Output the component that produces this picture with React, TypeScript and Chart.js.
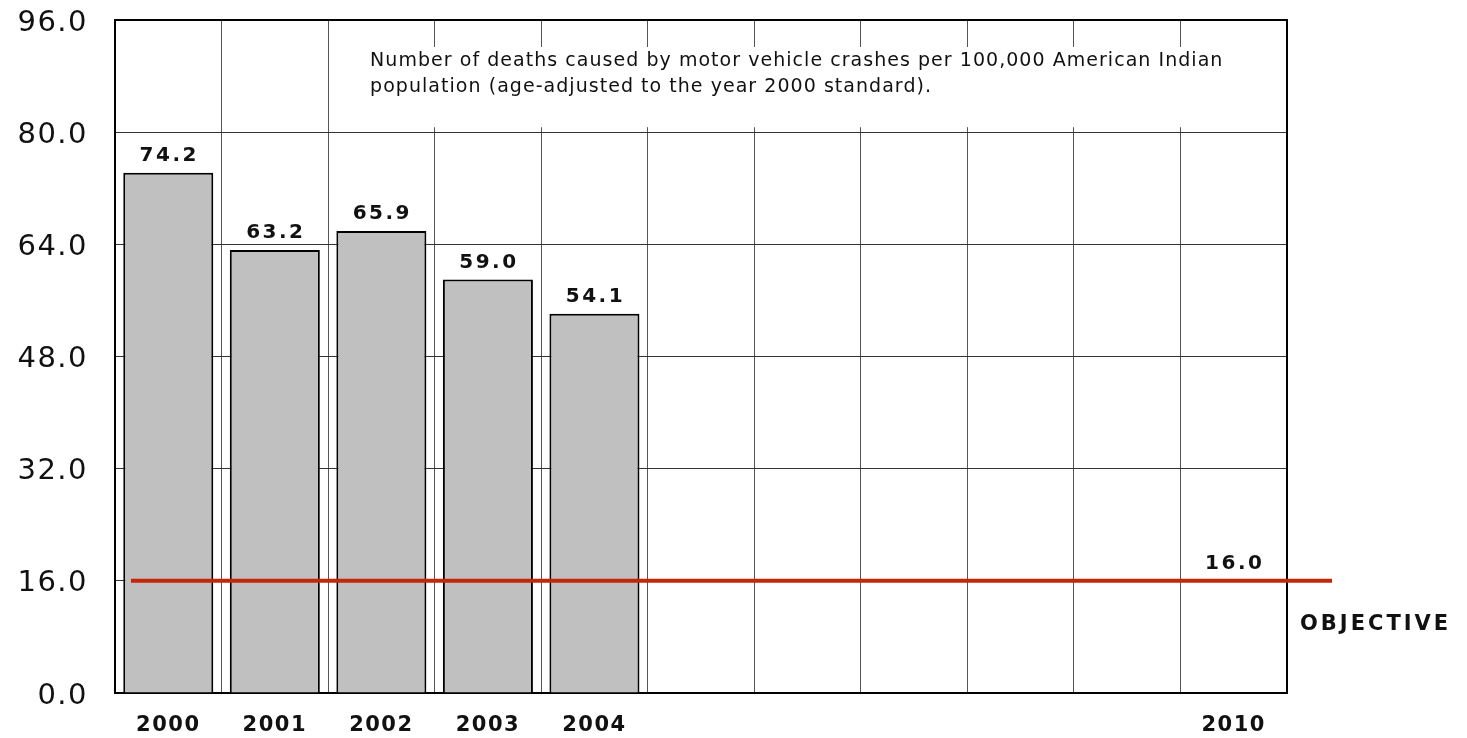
import React, { useEffect, useRef } from "react";
import { Chart, registerables } from "chart.js";

Chart.register(...registerables);

// ---- data ----
const years = ["2000", "2001", "2002", "2003", "2004", "2005", "2006", "2007", "2008", "2009", "2010"];
const tickLabels = ["2000", "2001", "2002", "2003", "2004", "", "", "", "", "", "2010"];
const deathRates: (number | null)[] = [74.2, 63.2, 65.9, 59.0, 54.1, null, null, null, null, null, null];
const objectiveValue = 16.0;
const objectiveLabel = "OBJECTIVE";
const yMin = 0;
const yMax = 96;
const yStep = 16;
const noteLines = [
  "Number of deaths caused by motor vehicle crashes per 100,000 American Indian",
  "population (age-adjusted to the year 2000 standard).",
];

const FONT = "'DejaVu Sans', Verdana, sans-serif";

const overlayPlugin = {
  id: "overlay",
  beforeDraw(chart: any) {
    chart.ctx.letterSpacing = "1.5px";
  },
  beforeDatasetsDraw(chart: any) {
    const { ctx, chartArea: a, scales } = chart;
    const x = scales.x;
    const y = scales.y;
    const catW = (a.right - a.left) / years.length;
    ctx.save();
    // note box (white, covers grid lines)
    const boundary = x.getPixelForValue(1) + catW / 2;
    const boxTop = a.top + 27;
    const boxBottom = y.getPixelForValue(80) - 5;
    ctx.fillStyle = "#fff";
    ctx.fillRect(boundary + 2, boxTop, a.right - 2 - (boundary + 2), boxBottom - boxTop);
    // note text
    ctx.fillStyle = "#111";
    ctx.font = `19px ${FONT}`;
    ctx.letterSpacing = "0px";
    const w0 = ctx.measureText(noteLines[0]).width;
    const target = 853;
    const sp = Math.max(0, (target - w0) / noteLines[0].length);
    ctx.letterSpacing = `${sp.toFixed(2)}px`;
    ctx.textAlign = "left";
    ctx.textBaseline = "middle";
    ctx.fillText(noteLines[0], boundary + 42, a.top + 41);
    ctx.fillText(noteLines[1], boundary + 42, a.top + 67);
    // frame
    ctx.letterSpacing = "0px";
    ctx.strokeStyle = "#000";
    ctx.lineWidth = 2;
    ctx.strokeRect(a.left, a.top, a.right - a.left, a.bottom - a.top);
    ctx.restore();
  },
  afterDatasetsDraw(chart: any) {
    const { ctx, chartArea: a, scales } = chart;
    const x = scales.x;
    const y = scales.y;
    const catW = (a.right - a.left) / years.length;
    ctx.save();
    // objective line
    const yPix = y.getPixelForValue(objectiveValue);
    ctx.strokeStyle = "#C4260A";
    ctx.lineWidth = 4;
    ctx.beginPath();
    ctx.moveTo(x.getPixelForValue(0) - 0.35 * catW, yPix);
    ctx.lineTo(a.right + 45, yPix);
    ctx.stroke();
    // value labels
    ctx.fillStyle = "#111";
    ctx.font = `bold 20px ${FONT}`;
    ctx.letterSpacing = "2.5px";
    ctx.textAlign = "center";
    ctx.textBaseline = "middle";
    const meta = chart.getDatasetMeta(0);
    deathRates.forEach((v, i) => {
      if (v == null) return;
      const el = meta.data[i];
      ctx.fillText(v.toFixed(1), el.x + 1, el.y - 17);
    });
    ctx.fillText(objectiveValue.toFixed(1), x.getPixelForValue(years.length - 1) + 1, yPix - 17);
    ctx.font = `bold 21px ${FONT}`;
    ctx.letterSpacing = "3px";
    ctx.textAlign = "left";
    ctx.fillText(objectiveLabel, a.right + 13, yPix + 44);
    ctx.restore();
  },
};

export default function App() {
  const ref = useRef<HTMLCanvasElement | null>(null);
  useEffect(() => {
    if (!ref.current) return;
    const chart = new Chart(ref.current, {
      type: "bar",
      data: {
        labels: years,
        datasets: [
          {
            data: deathRates as any,
            backgroundColor: "#C0C0C0",
            borderColor: "#000",
            borderWidth: 2,
            barPercentage: 0.845,
            categoryPercentage: 1,
          },
        ],
      },
      options: {
        animation: false,
        responsive: false,
        devicePixelRatio: 1,
        layout: { padding: { top: 20, right: 180, left: 0, bottom: 0 } },
        plugins: { legend: { display: false }, tooltip: { enabled: false } },
        scales: {
          x: {
            grid: { offset: true, color: "#555", lineWidth: 1, drawTicks: false },
            border: { display: false },
            ticks: {
              autoSkip: false,
              maxRotation: 0,
              padding: 20,
              color: "#111",
              font: { family: FONT, size: 21, weight: "bold" },
              callback: (_v: any, i: number) => tickLabels[i],
            },
            afterFit: (axis: any) => {
              axis.height = 45;
              axis.paddingLeft = 0;
              axis.paddingRight = 0;
            },
          },
          y: {
            min: yMin,
            max: yMax,
            grid: { color: "#333", lineWidth: 1, drawTicks: false },
            border: { display: false },
            ticks: {
              stepSize: yStep,
              padding: 27,
              labelOffset: 3,
              color: "#111",
              font: { family: FONT, size: 29 },
              callback: (v: any) => Number(v).toFixed(1),
            },
            afterFit: (axis: any) => {
              axis.width = 115;
              axis.paddingTop = 0;
              axis.paddingBottom = 0;
            },
          },
        },
      },
      plugins: [overlayPlugin],
    });
    return () => chart.destroy();
  }, []);
  return (
    <div style={{ position: "fixed", left: 0, top: 0, width: 1467, height: 738, background: "#fff" }}>
      <canvas ref={ref} width={1467} height={738} />
    </div>
  );
}
